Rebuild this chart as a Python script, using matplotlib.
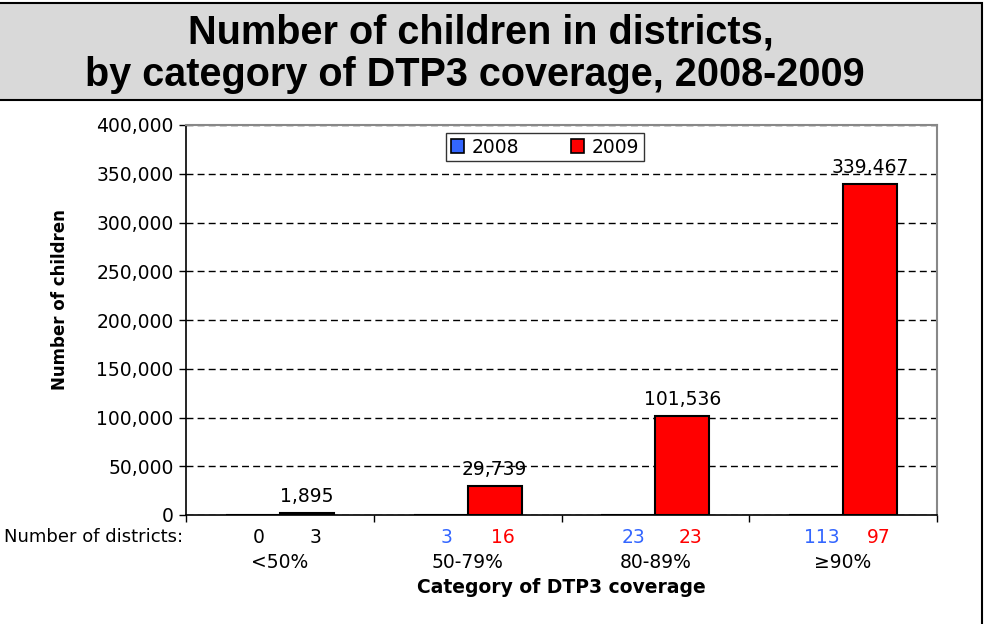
import matplotlib
matplotlib.use('Agg')
import matplotlib.pyplot as plt
from matplotlib.patches import Rectangle, Patch
from matplotlib.lines import Line2D
from matplotlib.ticker import FuncFormatter
import numpy as np

# Data
categories = ['<50%', '50-79%', '80-89%', '\u226590%']
children_2008 = [0, 0, 0, 0]
children_2009 = [1895, 29739, 101536, 339467]
districts_2008 = [0, 3, 23, 113]
districts_2009 = [3, 16, 23, 97]

blue = '#3366ff'
red = '#ff0000'
fs = 13.5

fig = plt.figure(figsize=(9.86, 6.24), dpi=100)
W, H = 986, 624

# title box
fig.patches.append(Rectangle((-0.01, 1 - 100 / H), 982 / W + 0.01, 97 / H, transform=fig.transFigure,
                             facecolor='#d9d9d9', edgecolor='black', linewidth=1.5, zorder=0))
fig.lines.append(Line2D([982 / W, 982 / W], [0, 1 - 100 / H], transform=fig.transFigure,
                        color='black', linewidth=1.5))
title_font = dict(family=['Liberation Sans Narrow', 'Liberation Sans'], weight='bold', size=28.5)
fig.text(481 / W, 1 - 33 / H, 'Number of children in districts,', ha='center', va='center', **title_font)
fig.text(475 / W, 1 - 75 / H, 'by category of DTP3 coverage, 2008-2009', ha='center', va='center', **title_font)

ax = fig.add_axes([186 / W, 1 - 515 / H, (937 - 186) / W, (515 - 125) / H])

x = np.arange(len(categories))
w = 0.288
ax.bar(x - w / 2, children_2008, w, color=blue, edgecolor='black', linewidth=1.5, zorder=3)
ax.bar(x + w / 2, children_2009, w, color=red, edgecolor='black', linewidth=1.5, zorder=3)

for xi, v in zip(x, children_2009):
    ax.annotate(f'{v:,}', (xi + w / 2, v), xytext=(0, 5), textcoords='offset points',
                ha='center', va='bottom', fontsize=fs)

ax.set_xlim(-0.5, len(categories) - 0.5)
ax.set_ylim(0, 400000)
ax.set_yticks(np.arange(0, 400001, 50000))
ax.yaxis.set_major_formatter(FuncFormatter(lambda v, p: f'{int(v):,}'))
ax.set_xticks(np.arange(len(categories) + 1) - 0.5)
ax.set_xticklabels([])
ax.tick_params(axis='both', direction='out', length=5, width=1, labelsize=fs, pad=4)
ax.yaxis.grid(True, color='black', linestyle=(0, (5, 3)), linewidth=1)
ax.set_axisbelow(True)
for s in ['top', 'right']:
    ax.spines[s].set_color('#888888')
    ax.spines[s].set_linewidth(1.5)
for s in ['left', 'bottom']:
    ax.spines[s].set_linewidth(1.2)

# district counts and category labels under the axis
ax.annotate('Number of districts:', (0, 0), xycoords='axes fraction', xytext=(-2, -16),
            textcoords='offset points', ha='right', va='center', fontsize=13)
for i, cat in enumerate(categories):
    c08 = 'black' if i == 0 else blue
    c09 = 'black' if i == 0 else red
    ax.annotate(str(districts_2008[i]), (x[i] - w / 2, 0), xycoords=('data', 'axes fraction'),
                xytext=(4, -16), textcoords='offset points', ha='center', va='center',
                fontsize=fs, color=c08)
    ax.annotate(str(districts_2009[i]), (x[i] + w / 2, 0), xycoords=('data', 'axes fraction'),
                xytext=(6, -16), textcoords='offset points', ha='center', va='center',
                fontsize=fs, color=c09)
    ax.annotate(cat, (x[i], 0), xycoords=('data', 'axes fraction'),
                xytext=(0, -34), textcoords='offset points', ha='center', va='center',
                fontsize=fs)

ax.annotate('Category of DTP3 coverage', (0.5, 0), xycoords='axes fraction', xytext=(0, -52),
            textcoords='offset points', ha='center', va='center', fontsize=13.5, weight='bold')
fig.text(60 / W, 1 - 300 / H, 'Number of children', rotation=90, ha='center', va='center',
         fontsize=12, weight='bold')

handles = [Patch(facecolor=blue, edgecolor='black', linewidth=1.2, label='2008'),
           Patch(facecolor=red, edgecolor='black', linewidth=1.2, label='2009')]
leg = fig.legend(handles=handles, loc='center', bbox_to_anchor=(545 / W, 1 - 147 / H), ncol=2,
                 fontsize=fs, frameon=True, fancybox=False, handlelength=0.7, handleheight=0.7,
                 columnspacing=2.8, handletextpad=0.4, borderpad=0.25, borderaxespad=0)
leg.get_frame().set_edgecolor('black')
leg.get_frame().set_linewidth(1)

fig.savefig('out.png', dpi=100)
